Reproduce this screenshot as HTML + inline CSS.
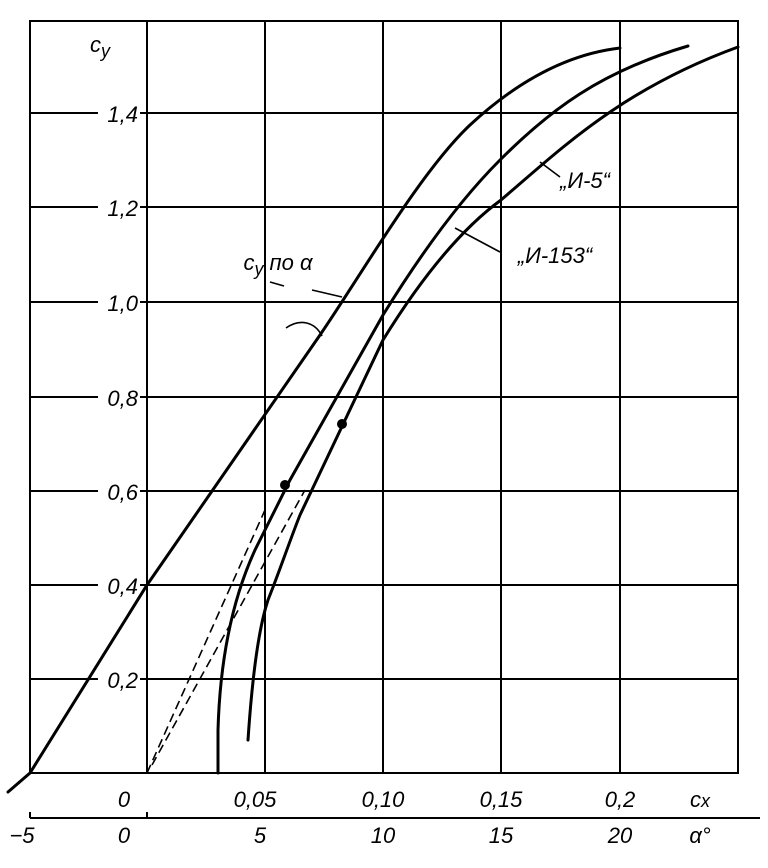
<!DOCTYPE html>
<html><head><meta charset="utf-8"><style>
html,body{margin:0;padding:0;background:#fff;}
svg text{font-family:"Liberation Sans","DejaVu Sans",sans-serif;font-style:italic;fill:#000;}
</style></head><body>
<svg width="768" height="863" viewBox="0 0 768 863" xmlns="http://www.w3.org/2000/svg">
<g stroke="#000" stroke-width="2" fill="none">
<rect x="30" y="21" width="708" height="752"/>
<line x1="147" y1="21" x2="147" y2="773"/>
<line x1="265" y1="21" x2="265" y2="773"/>
<line x1="383" y1="21" x2="383" y2="773"/>
<line x1="501" y1="21" x2="501" y2="773"/>
<line x1="620" y1="21" x2="620" y2="773"/>
<line x1="30" y1="113" x2="738" y2="113"/>
<line x1="30" y1="207" x2="738" y2="207"/>
<line x1="30" y1="302" x2="738" y2="302"/>
<line x1="30" y1="397" x2="738" y2="397"/>
<line x1="30" y1="491" x2="738" y2="491"/>
<line x1="30" y1="585" x2="738" y2="585"/>
<line x1="30" y1="679" x2="738" y2="679"/>
<line x1="30" y1="818" x2="760" y2="818"/>
<line x1="30" y1="812" x2="30" y2="818"/>
<line x1="147" y1="812" x2="147" y2="818"/>
</g>
<g fill="#fff">
<rect x="98" y="100" width="42" height="26"/><rect x="98" y="194" width="42" height="26"/>
<rect x="98" y="289" width="42" height="26"/><rect x="98" y="384" width="42" height="26"/>
<rect x="98" y="478" width="42" height="26"/><rect x="98" y="572" width="42" height="26"/>
<rect x="98" y="666" width="42" height="26"/>
</g>
<g font-size="22" text-anchor="end">
<text x="138" y="122">1,4</text><text x="138" y="216">1,2</text>
<text x="138" y="311">1,0</text><text x="138" y="406">0,8</text>
<text x="138" y="500">0,6</text><text x="138" y="594">0,4</text>
<text x="138" y="688">0,2</text>
</g>
<g font-size="22" text-anchor="middle">
<text x="124" y="807">0</text><text x="255" y="807">0,05</text>
<text x="383" y="807">0,10</text><text x="501" y="807">0,15</text>
<text x="620" y="807">0,2</text><text x="700" y="807">c<tspan font-size="18">x</tspan></text>
<text x="22" y="843">−5</text><text x="124" y="843">0</text>
<text x="260" y="843">5</text><text x="383" y="843">10</text>
<text x="501" y="843">15</text><text x="620" y="843">20</text>
<text x="700" y="843">α°</text>
<text x="100" y="52">c<tspan font-size="18" dy="5">y</tspan></text>
<text x="278" y="270">c<tspan font-size="18" dy="5">y</tspan><tspan dy="-5"> по α</tspan></text>
<text x="585" y="188">„И-5“</text>
<text x="555" y="263">„И-153“</text>
</g>
<g stroke="#000" fill="none" stroke-width="3" stroke-linecap="round">
<path d="M8,792 L30,773 L147,585 L320,335 C360,277 420,172 470,125 C510,88 560,55 620,48"/>
<path d="M218,773 L218,730 C220,660 232,600 255,550 C270,520 280,500 290,480 L383,315 C420,255 460,200 500,160 C550,110 600,72 688,46"/>
<path d="M248,740 C252,680 258,630 268,600 C280,570 290,540 300,515 L383,340 C420,280 460,230 501,200 C560,150 620,90 738,47"/>
</g>
<g stroke="#000" fill="none" stroke-width="1.6">
<path d="M147,773 L265,510" stroke-dasharray="9,5"/>
<path d="M152,765 L305,490" stroke-dasharray="9,5"/>
<path d="M286,328 C300,318 315,322 322,336"/>
<path d="M312,290 L342,297"/>
<path d="M270,282 L284,286"/>
<path d="M540,162 L560,177"/>
<path d="M455,228 L500,252"/>
</g>
<circle cx="285" cy="485" r="5" fill="#000"/>
<circle cx="342" cy="424" r="5" fill="#000"/>
</svg>
</body></html>
